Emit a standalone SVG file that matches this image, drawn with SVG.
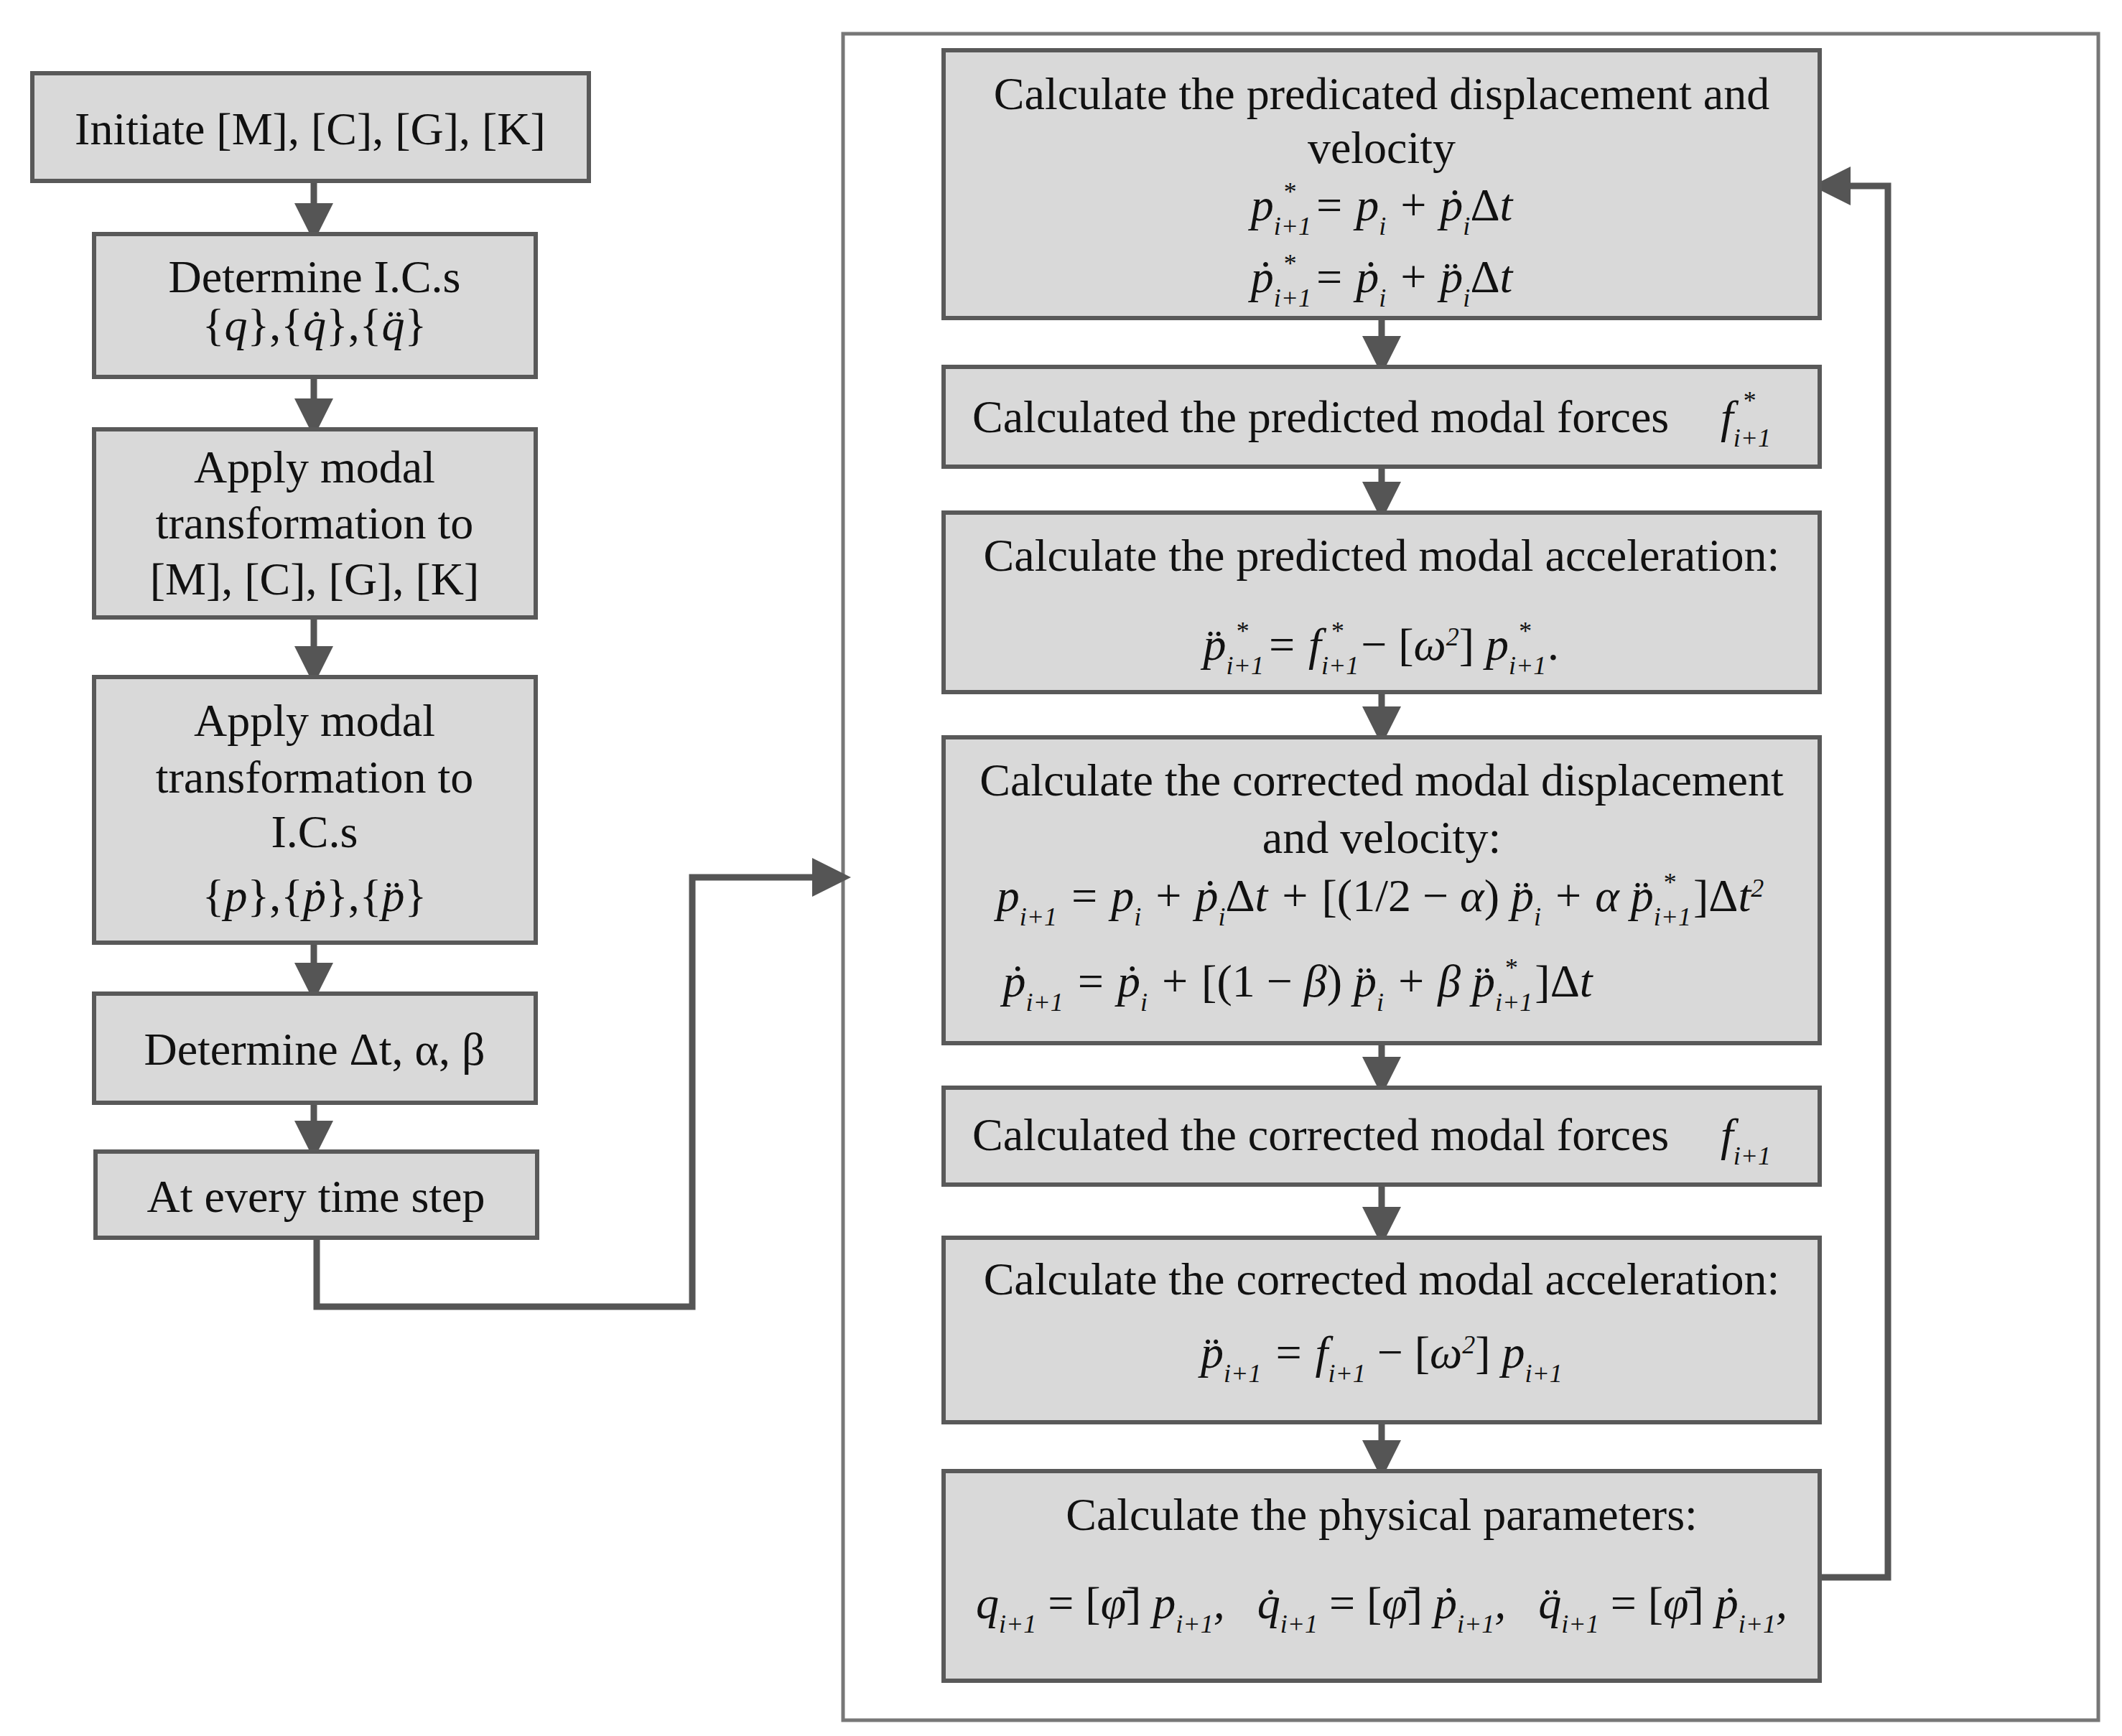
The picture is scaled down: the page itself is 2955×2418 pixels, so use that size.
<svg xmlns="http://www.w3.org/2000/svg" width="2955" height="2418" viewBox="0 0 2955 2418">
<style>
.b{fill:#d9d9d9;stroke:#595959;stroke-width:6}
.t{font-family:"Liberation Serif",serif;font-size:64px;fill:#111;text-anchor:middle}
.m{font-style:italic}
.u{font-style:normal}
.s{font-size:36px;baseline-shift:sub;font-style:italic}
.p{font-size:36px;baseline-shift:super;font-style:italic}
.c{fill:none;stroke:#555;stroke-width:9}
</style>
<defs><marker id="a" markerWidth="6" markerHeight="6" refX="3" refY="3" orient="auto" markerUnits="strokeWidth"><path d="M0,0 L6,3 L0,6 z" fill="#555"/></marker></defs>
<rect x="1174" y="47" width="1748" height="2349" fill="none" stroke="#777" stroke-width="5"/>
<g id="connectors">
<path class="c" d="M437,252 V310" marker-end="url(#a)"/>
<path class="c" d="M437,525 V582" marker-end="url(#a)"/>
<path class="c" d="M437,860 V927" marker-end="url(#a)"/>
<path class="c" d="M437,1313 V1368" marker-end="url(#a)"/>
<path class="c" d="M437,1536 V1588" marker-end="url(#a)"/>
<path class="c" d="M441,1724 V1820 H964 V1222 H1158" marker-end="url(#a)"/>
<path class="c" d="M1924,443 V495" marker-end="url(#a)"/>
<path class="c" d="M1924,650 V698" marker-end="url(#a)"/>
<path class="c" d="M1924,964 V1011" marker-end="url(#a)"/>
<path class="c" d="M1924,1453 V1499" marker-end="url(#a)"/>
<path class="c" d="M1924,1650 V1708" marker-end="url(#a)"/>
<path class="c" d="M1924,1981 V2033" marker-end="url(#a)"/>
<path class="c" d="M2534,2197 H2629 V259 H2550" marker-end="url(#a)"/>
</g>
<g id="n1"><rect class="b" x="45" y="102" width="775" height="150"/><text class="t" x="432" y="201">Initiate [M], [C], [G], [K]</text></g>
<g id="n2"><rect class="b" x="131" y="326" width="615" height="199"/><text class="t" x="438" y="407">Determine I.C.s</text><text class="t" x="438" y="474">{<tspan class="m">q</tspan>},{<tspan class="m">q̇</tspan>},{<tspan class="m">q̈</tspan>}</text></g>
<g id="n3"><rect class="b" x="131" y="598" width="615" height="262"/><text class="t" x="438" y="672">Apply modal</text><text class="t" x="438" y="750">transformation to</text><text class="t" x="438" y="828">[M], [C], [G], [K]</text></g>
<g id="n4"><rect class="b" x="131" y="943" width="615" height="370"/><text class="t" x="438" y="1025">Apply modal</text><text class="t" x="438" y="1104">transformation to</text><text class="t" x="438" y="1180">I.C.s</text><text class="t" x="438" y="1269">{<tspan class="m">p</tspan>},{<tspan class="m">ṗ</tspan>},{<tspan class="m">p̈</tspan>}</text></g>
<g id="n5"><rect class="b" x="131" y="1384" width="615" height="152"/><text class="t" x="438" y="1483">Determine Δt, α, β</text></g>
<g id="n6"><rect class="b" x="133" y="1604" width="615" height="120"/><text class="t" x="440" y="1688">At every time step</text></g>
<g id="r1"><rect class="b" x="1314" y="70" width="1220" height="373"/>
<text class="t" x="1924" y="152">Calculate the predicated displacement and</text>
<text class="t" x="1924" y="227">velocity</text>
<text class="t m" x="1924" y="307">p<tspan class="s">i+1</tspan><tspan class="p" dx="-40" dy="-8">*</tspan><tspan dy="8" dx="25">= p</tspan><tspan class="s">i</tspan> + ṗ<tspan class="s">i</tspan><tspan class="u">Δ</tspan>t</text>
<text class="t m" x="1924" y="407">ṗ<tspan class="s">i+1</tspan><tspan class="p" dx="-40" dy="-8">*</tspan><tspan dy="8" dx="25">= ṗ</tspan><tspan class="s">i</tspan> + p̈<tspan class="s">i</tspan><tspan class="u">Δ</tspan>t</text></g>
<g id="r2"><rect class="b" x="1314" y="511" width="1220" height="139"/>
<text class="t" x="1354" y="602" style="text-anchor:start">Calculated the predicted modal forces</text>
<text class="t m" x="2396" y="602" style="text-anchor:start">f<tspan class="s">i+1</tspan><tspan class="p" dx="-40" dy="-12">*</tspan></text></g>
<g id="r3"><rect class="b" x="1314" y="714" width="1220" height="250"/>
<text class="t" x="1924" y="795">Calculate the predicted modal acceleration:</text>
<text class="t m" x="1924" y="919">p̈<tspan class="s">i+1</tspan><tspan class="p" dx="-40" dy="-8">*</tspan><tspan dy="8" dx="25">= f</tspan><tspan class="s">i+1</tspan><tspan class="p" dx="-40" dy="-8">*</tspan><tspan dy="8" dx="25" class="u">− [</tspan>ω<tspan class="p">2</tspan><tspan class="u">]</tspan> p<tspan class="s">i+1</tspan><tspan class="p" dx="-40" dy="-8">*</tspan><tspan dy="8" dx="25">.</tspan></text></g>
<g id="r4"><rect class="b" x="1314" y="1027" width="1220" height="426"/>
<text class="t" x="1924" y="1108">Calculate the corrected modal displacement</text>
<text class="t" x="1924" y="1188">and velocity:</text>
<text class="t m" x="1922" y="1269">p<tspan class="s">i+1</tspan> = p<tspan class="s">i</tspan> + ṗ<tspan class="s">i</tspan><tspan class="u">Δ</tspan>t + <tspan class="u">[(1/2 − </tspan>α<tspan class="u">)</tspan> p̈<tspan class="s">i</tspan> + α p̈<tspan class="s">i+1</tspan><tspan class="p" dx="-40" dy="-8">*</tspan><tspan dy="8" dx="25" class="u">]Δ</tspan>t<tspan class="p">2</tspan></text>
<text class="t m" x="1807" y="1388">ṗ<tspan class="s">i+1</tspan> = ṗ<tspan class="s">i</tspan> + <tspan class="u">[(1 − </tspan>β<tspan class="u">)</tspan> p̈<tspan class="s">i</tspan> + β p̈<tspan class="s">i+1</tspan><tspan class="p" dx="-40" dy="-8">*</tspan><tspan dy="8" dx="25" class="u">]Δ</tspan>t</text></g>
<g id="r5"><rect class="b" x="1314" y="1515" width="1220" height="135"/>
<text class="t" x="1354" y="1602" style="text-anchor:start">Calculated the corrected modal forces</text>
<text class="t m" x="2396" y="1602" style="text-anchor:start">f<tspan class="s">i+1</tspan></text></g>
<g id="r6"><rect class="b" x="1314" y="1724" width="1220" height="257"/>
<text class="t" x="1924" y="1803">Calculate the corrected modal acceleration:</text>
<text class="t m" x="1924" y="1905">p̈<tspan class="s">i+1</tspan> = f<tspan class="s">i+1</tspan><tspan class="u"> − [</tspan>ω<tspan class="p">2</tspan><tspan class="u">]</tspan> p<tspan class="s">i+1</tspan></text></g>
<g id="r7"><rect class="b" x="1314" y="2049" width="1220" height="292"/>
<text class="t" x="1924" y="2131">Calculate the physical parameters:</text>
<text class="t m" x="1924" y="2254">q<tspan class="s">i+1</tspan><tspan class="u"> = [</tspan>φ̄<tspan class="u">]</tspan> p<tspan class="s">i+1</tspan>,<tspan dx="45">q̇</tspan><tspan class="s">i+1</tspan><tspan class="u"> = [</tspan>φ̄<tspan class="u">]</tspan> ṗ<tspan class="s">i+1</tspan>,<tspan dx="45">q̈</tspan><tspan class="s">i+1</tspan><tspan class="u"> = [</tspan>φ̄<tspan class="u">]</tspan> ṗ<tspan class="s">i+1</tspan>,</text></g>
</svg>
